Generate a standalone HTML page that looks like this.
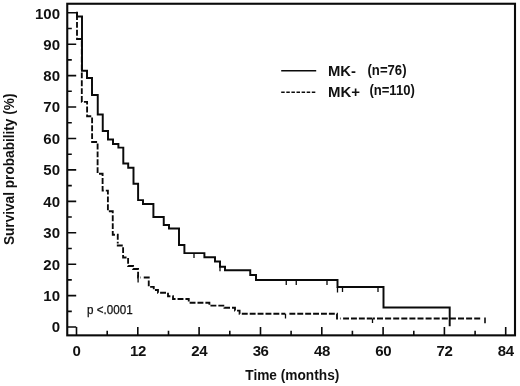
<!DOCTYPE html>
<html>
<head>
<meta charset="utf-8">
<title>Survival probability</title>
<style>
html,body{margin:0;padding:0;background:#fff;}
body{width:520px;height:386px;overflow:hidden;font-family:"Liberation Sans",sans-serif;}
svg{display:block;filter:grayscale(1) blur(0.3px);}
text{font-family:"Liberation Sans",sans-serif;fill:#111;}
.b{font-weight:bold;}
</style>
</head>
<body>
<svg width="520" height="386" viewBox="0 0 520 386">
<rect x="0" y="0" width="520" height="386" fill="#fff"/>

<!-- frame -->
<rect x="67.25" y="3.75" width="447.75" height="331.6" fill="none" stroke="#0a0a0a" stroke-width="2.1"/>

<!-- y ticks -->
<g stroke="#0a0a0a" stroke-width="1.6" fill="none" id="yt">
<path d="M68 12.75H76.2M68 44.18H76.2M68 75.61H76.2M68 107.04H76.2M68 138.47H76.2M68 169.90H76.2M68 201.33H76.2M68 232.76H76.2M68 264.19H76.2M68 295.62H76.2M68 327.05H76.2"/>
<path d="M68 28.46H71.8M68 59.89H71.8M68 91.32H71.8M68 122.75H71.8M68 154.19H71.8M68 185.61H71.8M68 217.04H71.8M68 248.47H71.8M68 279.90H71.8M68 311.33H71.8"/>
</g>
<!-- x ticks -->
<g stroke="#0a0a0a" stroke-width="1.6" fill="none" id="xt">
<path d="M76.5 327V335M137.8 327V335M199.1 327V335M260.5 327V335M321.8 327V335M383.1 327V335M444.4 327V335M505.7 327V335"/>
<path d="M107.2 330.8V335M168.5 330.8V335M229.8 330.8V335M291.1 330.8V335M352.4 330.8V335M413.8 330.8V335M475.1 330.8V335"/>
</g>

<!-- y labels -->
<g class="b" font-size="15" text-anchor="end" font-weight="bold">
<text x="60" y="18.85">100</text>
<text x="60" y="49.58">90</text>
<text x="60" y="81.01">80</text>
<text x="60" y="112.44">70</text>
<text x="60" y="143.87">60</text>
<text x="60" y="175.30">50</text>
<text x="60" y="206.73">40</text>
<text x="60" y="238.16">30</text>
<text x="60" y="269.59">20</text>
<text x="60" y="301.02">10</text>
<text x="60" y="332.45">0</text>
</g>
<!-- x labels -->
<g class="b" font-size="15" text-anchor="middle" font-weight="bold" letter-spacing="-0.4">
<text x="76.5" y="356.3">0</text>
<text x="138" y="356.3">12</text>
<text x="199.3" y="356.3">24</text>
<text x="260.6" y="356.3">36</text>
<text x="322" y="356.3">48</text>
<text x="383.2" y="356.3">60</text>
<text x="444.5" y="356.3">72</text>
<text x="505.8" y="356.3">84</text>
</g>

<!-- axis titles -->
<text x="292.3" y="380.2" font-size="14.5" font-weight="bold" text-anchor="middle" textLength="94" lengthAdjust="spacingAndGlyphs">Time (months)</text>
<text transform="translate(14 169.3) rotate(-90)" font-size="14.5" font-weight="bold" text-anchor="middle" textLength="151.5" lengthAdjust="spacingAndGlyphs">Survival probability (%)</text>

<!-- p value -->
<text x="87" y="314.3" font-size="12" stroke="#111" stroke-width="0.25" textLength="45.6" lengthAdjust="spacingAndGlyphs">p &lt;.0001</text>

<!-- legend -->
<path d="M281.2 70.7H316.2" stroke="#0a0a0a" stroke-width="1.5" fill="none"/>
<path d="M281.2 92.3H315.4" stroke="#0a0a0a" stroke-width="1.6" stroke-dasharray="3.5 1.6" fill="none"/>
<text x="328" y="75.7" font-size="15.5" font-weight="bold" textLength="28" lengthAdjust="spacingAndGlyphs">MK-</text>
<text x="328" y="97.3" font-size="15.5" font-weight="bold" textLength="32" lengthAdjust="spacingAndGlyphs">MK+</text>
<text x="367.5" y="75" font-size="14" font-weight="bold" textLength="39" lengthAdjust="spacingAndGlyphs">(n=76)</text>
<text x="369.4" y="95.2" font-size="14" font-weight="bold" textLength="45.4" lengthAdjust="spacingAndGlyphs">(n=110)</text>

<!-- dashed curve MK+ -->
<g id="dash" fill="none" stroke="#0a0a0a" stroke-width="1.85" stroke-dasharray="5.9 2">
<path stroke-dashoffset="-1" d="M77 13V39H81.8V70"/>
<path d="M81.8 72.4V101.9H87.1V116.25H92.1V142H97.6V173.7H102.6V190.6H107.9V211.25H112.75V234.75H117.75V243.5"/>
<path d="M117.75 244.6V245.5H123.1V257.5H128.1V266H133.1V269H138.1V277.5H140.6"/>
<path d="M143.75 277.5H148.75V286.9H153.75V290H158V292.75H168V296.25H173V299H188.75V302.75H209.4V305.6H224.4V307.75H235V310.6H239.6V313.75H285.3"/>
<path d="M289.4 313.75H337V318.5H340.6"/>
<path d="M343.1 318.45H372"/>
<path stroke-dasharray="6 2.1" stroke-dashoffset="-4.5" d="M372.5 318.45H480.6"/>
<path stroke-dasharray="none" stroke-width="1.6" d="M485 317.6V323.3"/>
</g>
<path fill="none" stroke="#0a0a0a" stroke-width="1.3" d="M138.1 275V282.5M285.5 313.75V318.5M372.5 318.75V323"/>

<!-- solid curve MK- -->
<path id="solid" fill="none" stroke="#0a0a0a" stroke-width="1.95" stroke-linejoin="miter"
 d="M76 12.75H77V16.5H82V70.75H87V78H92V94.9H97.75V114.4H102.75V131H108V139.5H113V143.9H118.4V147.6H123.3V163.5H128.2V167.75H133.5V183.75H138.1V200.1H143V204H153.4V216.9H163.75V225H169V228.5H179V245H184.4V253.1H204.4V257.25H215V261.4H220V266.7H225V270.3H250.25V275H256V280H337.5V287H383.5V307.4H449.7V326.25"/>
<path fill="none" stroke="#0a0a0a" stroke-width="1.3" d="M194 253V258M220 266.7V271.25M286.25 280V285M296.25 280V285M327 280V285M337.5 287V292.5M342.5 287V292M378 287V292"/>
</svg>
</body>
</html>
